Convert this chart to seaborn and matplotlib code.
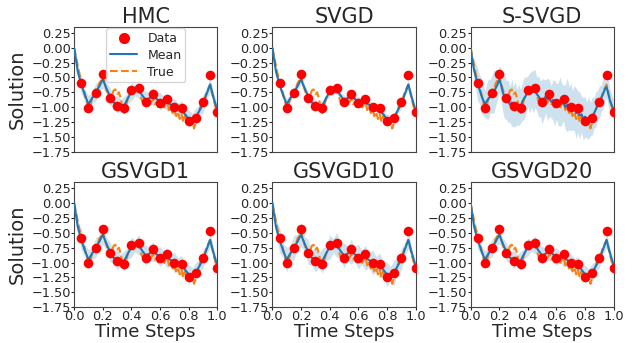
import numpy as np
import matplotlib
matplotlib.use("Agg")
import matplotlib.pyplot as plt
import seaborn as sns
from matplotlib.lines import Line2D

TITLES = ["HMC", "SVGD", "S-SVGD", "GSVGD1", "GSVGD10", "GSVGD20"]

# observed data points
DATA_T = [0.05, 0.10, 0.15, 0.20, 0.25, 0.30, 0.35, 0.40, 0.45, 0.50,
          0.55, 0.60, 0.65, 0.70, 0.75, 0.80, 0.85, 0.90, 0.95, 1.00]
DATA_Y = [-0.59, -1.01, -0.76, -0.44, -0.84, -0.98, -1.02, -0.71, -0.67, -0.92,
          -0.78, -0.93, -0.86, -1.00, -1.02, -1.24, -1.18, -0.92, -0.46, -1.09]

# true solution on a fine grid (step 0.0125)
TRUE_T = [i / 80 for i in range(81)]
TRUE_Y = [0.00, -0.15, -0.30, -0.45, -0.55, -0.62, -0.78, -0.90, -1.02, -0.98,
          -0.85, -0.80, -0.70, -0.72, -0.60, -0.55, -0.47, -0.60, -0.70, -0.80,
          -0.88, -0.82, -0.72, -0.70, -0.78, -0.75, -0.85, -1.02, -1.10, -0.98,
          -0.85, -0.80, -0.75, -0.78, -0.72, -0.70, -0.68, -0.80, -0.90, -0.88,
          -0.95, -0.88, -0.85, -0.92, -0.85, -0.95, -0.92, -1.00, -0.95, -0.90,
          -1.02, -0.95, -0.90, -1.05, -0.98, -1.10, -1.05, -1.15, -1.08, -1.20,
          -1.12, -1.25, -1.15, -1.28, -1.20, -1.30, -1.22, -1.36, -1.25, -1.15,
          -1.05, -0.95, -0.92, -0.85, -0.75, -0.68, -0.62, -0.75, -0.88, -1.00,
          -1.10]

# posterior mean / std on a grid with step 0.025
GRID_T = [i / 40 for i in range(41)]
MEAN_Y = [0.00, -0.40, -0.62, -0.80, -0.95, -0.85, -0.75, -0.65, -0.53, -0.68,
          -0.82, -0.92, -0.95, -0.96, -0.97, -0.85, -0.74, -0.72, -0.70, -0.80,
          -0.88, -0.85, -0.82, -0.86, -0.90, -0.91, -0.92, -0.96, -1.00, -1.02,
          -1.05, -1.12, -1.20, -1.19, -1.17, -1.06, -0.95, -0.78, -0.62, -0.85,
          -1.05]
STD_HMC = [0.04, 0.10, 0.15, 0.09, 0.15, 0.09, 0.15, 0.09, 0.15, 0.09,
           0.15, 0.09, 0.15, 0.09, 0.15, 0.09, 0.15, 0.09, 0.15, 0.09,
           0.15, 0.09, 0.15, 0.09, 0.15, 0.09, 0.15, 0.09, 0.15, 0.09,
           0.15, 0.09, 0.15, 0.09, 0.15, 0.09, 0.15, 0.09, 0.13, 0.08,
           0.07]
STD_SVGD = [0.03, 0.06, 0.09, 0.05, 0.09, 0.05, 0.08, 0.05, 0.08, 0.05,
            0.08, 0.05, 0.08, 0.05, 0.08, 0.05, 0.08, 0.05, 0.08, 0.05,
            0.08, 0.05, 0.08, 0.05, 0.08, 0.05, 0.08, 0.05, 0.08, 0.05,
            0.08, 0.05, 0.08, 0.05, 0.08, 0.05, 0.08, 0.05, 0.08, 0.05,
            0.05]
STD_G1 = [0.10, 0.11, 0.17, 0.10, 0.17, 0.10, 0.17, 0.10, 0.17, 0.10,
          0.17, 0.10, 0.17, 0.10, 0.17, 0.10, 0.17, 0.10, 0.17, 0.10,
          0.17, 0.10, 0.17, 0.10, 0.17, 0.10, 0.17, 0.10, 0.17, 0.10,
          0.17, 0.10, 0.17, 0.10, 0.17, 0.10, 0.15, 0.09, 0.12, 0.08,
          0.06]
STD_G10 = [0.08, 0.12, 0.21, 0.12, 0.21, 0.12, 0.21, 0.12, 0.21, 0.12,
           0.21, 0.12, 0.21, 0.12, 0.21, 0.12, 0.21, 0.12, 0.21, 0.12,
           0.21, 0.12, 0.21, 0.12, 0.21, 0.12, 0.21, 0.12, 0.21, 0.12,
           0.21, 0.12, 0.21, 0.12, 0.21, 0.12, 0.18, 0.10, 0.14, 0.08,
           0.06]
STD_G20 = [0.05, 0.10, 0.15, 0.09, 0.15, 0.09, 0.15, 0.09, 0.15, 0.09,
           0.15, 0.09, 0.15, 0.09, 0.15, 0.09, 0.15, 0.09, 0.15, 0.09,
           0.15, 0.09, 0.15, 0.09, 0.15, 0.09, 0.15, 0.09, 0.15, 0.09,
           0.15, 0.09, 0.15, 0.09, 0.15, 0.09, 0.14, 0.08, 0.12, 0.07,
           0.06]

# S-SVGD is noisy, so it lives on the fine grid
SS_MEAN = [0.00, -0.22, -0.38, -0.50, -0.62, -0.70, -0.80, -0.88, -0.95, -0.90,
           -0.86, -0.82, -0.78, -0.74, -0.68, -0.62, -0.53, -0.62, -0.75, -0.82,
           -0.88, -0.90, -0.96, -0.92, -0.99, -0.95, -1.00, -0.96, -0.99, -0.90,
           -0.85, -0.80, -0.73, -0.76, -0.70, -0.74, -0.69, -0.78, -0.82, -0.86,
           -0.90, -0.86, -0.82, -0.87, -0.85, -0.91, -0.88, -0.93, -0.90, -0.95,
           -0.91, -0.94, -0.93, -1.00, -0.96, -1.02, -1.00, -1.05, -1.02, -1.10,
           -1.08, -1.14, -1.12, -1.20, -1.16, -1.22, -1.18, -1.20, -1.15, -1.10,
           -1.04, -0.96, -0.92, -0.85, -0.78, -0.70, -0.66, -0.78, -0.90, -0.98,
           -1.05]
SS_STD = [0.08, 0.10, 0.18, 0.22, 0.28, 0.24, 0.30, 0.26, 0.22, 0.30,
          0.34, 0.28, 0.32, 0.36, 0.30, 0.25, 0.22, 0.28, 0.33, 0.38,
          0.32, 0.36, 0.30, 0.40, 0.34, 0.38, 0.30, 0.35, 0.28, 0.32,
          0.36, 0.30, 0.26, 0.34, 0.30, 0.36, 0.32, 0.28, 0.35, 0.30,
          0.38, 0.33, 0.28, 0.36, 0.31, 0.27, 0.34, 0.38, 0.30, 0.36,
          0.42, 0.34, 0.30, 0.38, 0.45, 0.36, 0.40, 0.33, 0.38, 0.42,
          0.35, 0.40, 0.30, 0.36, 0.34, 0.30, 0.36, 0.28, 0.32, 0.26,
          0.30, 0.24, 0.28, 0.22, 0.26, 0.20, 0.18, 0.22, 0.20, 0.18,
          0.16]

MEANS = [MEAN_Y, MEAN_Y, SS_MEAN, MEAN_Y, MEAN_Y, MEAN_Y]
STDS = [STD_HMC, STD_SVGD, SS_STD, STD_G1, STD_G10, STD_G20]
GRIDS = [GRID_T, GRID_T, TRUE_T, GRID_T, GRID_T, GRID_T]

sns.set_style("ticks")
plt.rcParams["font.family"] = ["DejaVu Sans"]

fig, axes = plt.subplots(2, 3, figsize=(6.34, 3.43), dpi=100, sharex=True)
fig.subplots_adjust(left=0.117, right=0.968, top=0.921, bottom=0.105,
                    wspace=0.385, hspace=0.248)

for k, ax in enumerate(axes.flat):
    t = np.array(GRIDS[k])
    m = np.array(MEANS[k])
    s = np.array(STDS[k])
    ax.fill_between(t, m - s, m + s, color="#1f77b4", alpha=0.22, linewidth=0)
    sns.lineplot(x=TRUE_T, y=TRUE_Y, ax=ax, color="#ff7f0e", linestyle="--",
                 linewidth=1.5, zorder=3)
    sns.lineplot(x=t, y=m, ax=ax, color="#1f77b4", linewidth=1.5, zorder=4)
    ax.scatter(DATA_T, DATA_Y, s=48, color="red", zorder=5, linewidths=0)
    ax.set_xlim(0, 1)
    ax.set_ylim(-1.75, 0.35)
    ax.set_yticks(np.arange(-1.75, 0.26, 0.25))
    ax.set_xticks([0.0, 0.2, 0.4, 0.6, 0.8, 1.0])
    ax.tick_params(labelsize=9.3, length=2, pad=0.5)
    ax.set_title(TITLES[k], fontsize=15, pad=3)
    for sp in ax.spines.values():
        sp.set_color("#444444")
    if k % 3 == 0:
        ax.set_ylabel("Solution", fontsize=14, labelpad=3)
    if k >= 3:
        ax.set_xlabel("Time Steps", fontsize=13, labelpad=0)
    if k < 3:
        ax.tick_params(axis="x", length=0)

handles = [
    Line2D([], [], marker="o", color="red", linestyle="none", markersize=7),
    Line2D([], [], color="#1f77b4", linewidth=1.5),
    Line2D([], [], color="#ff7f0e", linestyle="--", linewidth=1.5),
]
axes[0, 0].legend(handles, ["Data", "Mean", "True"], loc="upper center",
                  fontsize=9, borderaxespad=0.1, handlelength=2.2,
                  labelspacing=0.3, borderpad=0.3)

fig.savefig("out.png", dpi=100)
